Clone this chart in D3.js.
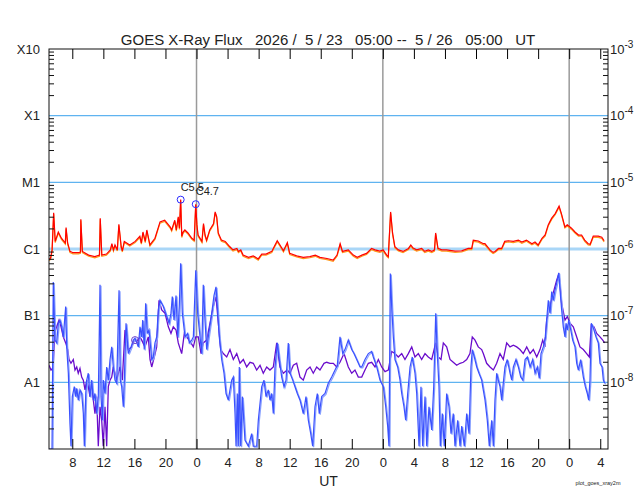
<!DOCTYPE html>
<html>
<head>
<meta charset="utf-8">
<script src="https://cdn.jsdelivr.net/npm/d3@7"></script>
<style>
  body { margin: 0; background: #fff; }
  svg text { font-family: "Liberation Sans", "DejaVu Sans", sans-serif; fill: #222; }
</style>
</head>
<body>
<svg width="640" height="500"></svg>
<script>
// hours after 2026-05-23 05:00 UT, flux in W/m^2
const longHours = [0,0.2,0.4,0.6,0.8,1.2,1.6,2.1,2.2,2.4,2.7,3.1,3.8,4.05,4.1,4.3,5.1,5.9,6.5,6.6,6.8,7.4,7.9,8.1,8.3,8.5,8.8,9.0,9.3,9.45,9.7,10.4,11.1,11.7,11.9,12.1,12.4,12.6,13.0,13.65,14.3,14.9,15.6,15.8,16.2,16.4,16.65,16.8,16.96,17.1,17.25,17.5,17.9,18.4,18.7,18.9,19.05,19.2,19.7,19.9,20.1,20.3,20.7,21.2,21.4,21.6,21.8,22.2,22.7,23.3,23.7,24.2,24.4,24.7,25.0,25.7,26.3,26.95,27.4,27.95,28.7,29.0,29.4,29.75,30.2,30.7,31.0,31.9,32.75,33.6,34.3,34.9,35.8,36.6,37.1,37.5,37.8,38.55,39.2,39.7,40.3,40.9,41.55,42.0,42.6,43.05,43.5,43.7,44.0,44.25,44.55,45.0,45.6,46.3,46.6,46.9,47.35,48.0,48.4,48.85,49.3,49.65,49.8,50.1,50.6,51.2,52.3,53.15,54.0,54.45,54.65,55.3,55.95,56.15,56.8,57.2,57.45,57.9,58.3,58.7,59.15,59.8,60.45,60.9,61.5,62.2,62.6,63.0,63.5,63.9,64.3,64.5,64.75,65.2,65.7,66.0,66.45,66.75,67.3,67.75,68.2,68.6,69.0,69.45,69.7,70.1,70.75,71.2,71.5];
const longFlux = [7.0e-7,7.3e-7,9.7e-7,3.5e-6,1.3e-6,1.8e-6,1.45e-6,1.23e-6,2.1e-6,1.23e-6,9.2e-7,8.8e-7,8.8e-7,9.0e-7,2.8e-6,9.2e-7,8.1e-7,7.7e-7,8.1e-7,2.9e-6,8.1e-7,8.4e-7,9.7e-7,1.2e-6,9.7e-7,1.15e-6,9.7e-7,2.35e-6,1.08e-6,9.4e-7,1.3e-6,1.15e-6,1.3e-6,1.55e-6,1.23e-6,1.8e-6,1.3e-6,1.93e-6,1.15e-6,1.45e-6,2.55e-6,2.7e-6,2.15e-6,1.93e-6,2.7e-6,1.93e-6,3.05e-6,2.05e-6,5.5e-6,1.55e-6,1.78e-6,1.93e-6,1.74e-6,1.45e-6,1.36e-6,4.7e-6,2.3e-6,1.62e-6,1.3e-6,2.4e-6,1.62e-6,1.36e-6,1.93e-6,2.4e-6,3.6e-6,3.05e-6,1.74e-6,1.36e-6,1.3e-6,1.08e-6,9.7e-7,1.02e-6,9.2e-7,9.7e-7,8.1e-7,7.5e-7,7.9e-7,7.1e-7,8.4e-7,8.4e-7,9.2e-7,1.08e-6,1.33e-6,1.15e-6,9.4e-7,1.25e-6,8.6e-7,7.9e-7,7.5e-7,7.7e-7,8.1e-7,7.5e-7,7.2e-7,6.8e-7,8.1e-7,1.2e-6,9.2e-7,9.7e-7,8.1e-7,7.5e-7,8.1e-7,8.6e-7,1.02e-6,9.7e-7,9.3e-7,9.7e-7,8.1e-7,7.7e-7,3.6e-6,1.74e-6,1.08e-6,9.7e-7,9.2e-7,1.02e-6,1.15e-6,1.03e-6,9.7e-7,1.02e-6,9.2e-7,9.7e-7,9.2e-7,9.7e-7,1.74e-6,1.02e-6,9.7e-7,9.7e-7,9.3e-7,9.4e-7,1.02e-6,1.02e-6,1.36e-6,1.32e-6,1.2e-6,1.2e-6,9.7e-7,8.9e-7,9.2e-7,1.02e-6,1.02e-6,1.3e-6,1.33e-6,1.3e-6,1.36e-6,1.27e-6,1.36e-6,1.2e-6,1.27e-6,1.15e-6,1.45e-6,1.62e-6,2.3e-6,2.55e-6,2.9e-6,3.4e-6,4.4e-6,3.4e-6,2.15e-6,2.3e-6,2.05e-6,1.8e-6,1.62e-6,1.62e-6,1.36e-6,1.2e-6,1.18e-6,1.56e-6,1.56e-6,1.5e-6,1.33e-6];

const shortHours = [0,0.39,0.55,0.77,0.99,1.2,1.42,1.64,1.84,2.15,2.28,2.49,2.7,2.83,3.0,3.26,3.44,3.57,3.77,3.99,4.21,4.42,4.55,4.73,4.86,5.06,5.28,5.5,5.71,5.92,6.14,6.35,6.57,6.7,6.87,6.99,7.21,7.43,7.64,7.86,8.08,8.28,8.5,8.72,9.02,9.18,9.36,9.57,9.7,9.92,10.21,10.56,10.86,11.08,11.5,11.72,11.94,12.07,12.27,12.45,12.66,12.88,13.23,13.43,13.65,13.87,14.08,14.3,14.72,15.16,15.46,15.71,15.88,16.1,16.36,16.58,16.78,16.96,17.17,17.52,17.86,18.07,18.38,18.59,18.9,19.15,19.36,19.67,19.87,20.09,20.31,20.52,20.96,21.25,21.51,21.68,21.93,22.24,22.54,22.8,23.09,23.31,23.53,23.74,23.96,24.09,24.25,24.38,24.51,24.69,24.9,25.24,25.67,26.11,26.31,26.75,26.96,27.4,27.69,27.95,28.25,28.46,28.68,28.89,29.11,29.41,29.66,29.97,30.27,30.53,30.82,31.04,31.39,31.68,31.98,32.33,32.75,33.1,33.4,33.71,33.96,34.26,34.56,34.81,35.12,35.55,35.97,36.41,36.84,37.13,37.48,37.83,38.12,38.55,38.99,39.28,39.63,40.06,40.28,40.7,41.13,41.56,41.77,42.21,42.63,43.06,43.37,43.62,43.79,43.96,44.14,44.35,44.56,44.91,45.21,45.43,45.72,45.94,46.2,46.5,46.79,47.14,47.36,47.66,47.91,48.13,48.43,48.65,48.94,49.29,49.55,49.81,50.01,50.23,50.4,50.66,50.91,51.22,51.52,51.78,52.07,52.29,52.64,52.94,53.16,53.49,53.8,54.1,54.35,54.52,54.78,55.09,55.38,55.73,55.86,56.16,56.45,56.71,57.02,57.23,57.44,57.66,57.87,58.09,58.31,58.51,58.73,59.03,59.38,59.6,59.81,60.15,60.45,60.76,61.02,61.32,61.61,61.96,62.3,62.6,62.9,63.15,63.37,63.67,63.92,64.1,64.31,64.53,64.75,64.95,65.17,65.39,65.65,65.82,66.03,66.24,66.46,66.59,66.76,66.94,67.2,67.45,67.75,67.97,68.18,68.48,68.82,69.08,69.33,69.51,69.68,69.85,70.11,70.45,70.75,70.97,71.23,71.4,71.57];
const shortFlux = [1e-9,1e-9,3.2e-7,4.3e-8,3.9e-8,7.7e-8,8.6e-8,6.8e-8,4.8e-8,1.37e-7,3.4e-8,1.37e-8,2.4e-9,1.1e-9,6.1e-9,8.6e-9,6.1e-9,8.1e-9,5.4e-9,7.7e-9,6.8e-9,3.4e-9,1.1e-9,6.8e-9,1.08e-8,1.37e-8,6.1e-9,1.08e-8,5.4e-9,6.8e-9,3.4e-9,6.1e-9,2.9e-7,6.1e-9,2.7e-9,1.08e-8,6.8e-9,1.7e-8,1.08e-8,2.2e-8,3.4e-8,1.7e-8,1.08e-8,9.7e-9,2.4e-7,1.08e-8,8.6e-9,4.3e-9,1.08e-8,7.7e-8,2.7e-8,3.4e-8,4.3e-8,4.6e-8,3.4e-8,6.8e-8,4.8e-8,8.6e-8,3.1e-8,1.53e-7,5.4e-8,6.1e-8,2.2e-8,2.4e-8,3.9e-8,4.8e-8,1.22e-7,1.7e-7,1.37e-7,9.7e-8,7.7e-8,1.09e-7,1.93e-7,8.6e-8,2.0e-7,4.8e-8,1.37e-7,6.1e-7,1.09e-7,4.8e-8,5.4e-8,3.9e-8,4.3e-8,4.8e-8,4.8e-7,1.09e-7,6.1e-8,2.7e-8,2.9e-7,8.6e-8,3.1e-8,4.8e-8,1.09e-7,2.0e-7,2.7e-7,1.37e-7,4.8e-8,2.2e-8,1.37e-8,6.8e-9,5.4e-9,7.7e-9,1.08e-8,1.2e-8,3.4e-9,1.1e-9,6.8e-9,1.1e-9,1.7e-8,1.1e-9,6.1e-9,1.36e-9,1.1e-9,1.7e-9,1.1e-9,1.1e-9,2.7e-9,8.6e-9,1.08e-8,6.1e-9,7.7e-9,5.4e-9,6.8e-9,3.4e-9,1.7e-8,3.9e-8,2.2e-8,1.2e-8,8.6e-9,1.08e-8,3.9e-8,1.37e-8,1.08e-8,8.6e-9,6.8e-9,5.4e-9,3.4e-9,6.1e-9,2.7e-9,1.7e-9,1.1e-9,4.3e-9,6.8e-9,3.4e-9,6.1e-9,6.8e-9,9.7e-9,1.2e-8,1.53e-8,1.8e-8,4.8e-8,2.7e-8,3.1e-8,4.3e-8,3.1e-8,2.7e-8,2.2e-8,1.7e-8,1.7e-8,2.2e-8,2.7e-8,2.9e-8,2.4e-8,1.7e-8,1.08e-8,8.6e-9,4.3e-9,2.2e-9,1.1e-9,4.3e-7,1.37e-7,4.8e-8,2.2e-8,1.7e-8,1.08e-8,6.8e-9,4.3e-9,2.7e-9,6.8e-9,1.7e-8,2.4e-8,1.37e-8,6.8e-9,1.1e-9,8.6e-9,1.1e-9,6.1e-9,1.1e-9,4.3e-9,1.93e-9,8.6e-9,1.09e-7,2.7e-8,8.6e-9,1.1e-9,3.4e-9,1.1e-9,6.8e-9,4.3e-9,1.7e-9,3.4e-9,1.1e-9,2.7e-9,1.1e-9,2.2e-9,1.1e-9,3.4e-9,1.7e-9,1.7e-8,3.1e-8,2.4e-8,1.7e-8,1.37e-8,1.08e-8,8.6e-9,5.4e-9,2.7e-9,1.1e-9,2.7e-9,1.1e-9,5.4e-9,1.37e-8,1.08e-8,8.6e-9,5.4e-9,9.7e-9,1.7e-8,2.2e-8,1.37e-8,1.08e-8,1.7e-8,2.2e-8,1.7e-8,1.2e-8,1.08e-8,2.2e-8,2.4e-8,1.7e-8,2.2e-8,1.37e-8,1.7e-8,1.15e-8,2.7e-8,3.4e-8,4.8e-8,8.6e-8,1.7e-7,1.09e-7,2.3e-7,1.7e-7,2.4e-7,3.1e-7,4.4e-7,2.4e-7,1.22e-7,6.8e-8,4.8e-8,7.7e-8,6.1e-8,8.6e-8,6.1e-8,4.3e-8,3.4e-8,1.93e-8,1.53e-8,2.2e-8,1.2e-8,8.6e-9,6.8e-9,5.4e-9,1.08e-8,7.7e-8,6.5e-8,4.8e-8,3.9e-8,1.93e-8,1.7e-8,1.08e-8,9.7e-9];

const short2Hours = [0,0.26,0.52,0.77,0.99,1.29,1.55,1.84,2.15,2.41,2.58,2.83,3.13,3.35,3.57,3.77,3.99,4.21,4.42,4.64,4.86,5.06,5.28,5.5,5.71,5.92,6.14,6.35,6.57,6.79,6.99,7.21,7.43,7.64,7.86,8.08,8.28,8.5,8.72,9.14,9.44,9.79,10.21,10.65,10.99,11.3,11.72,11.94,12.36,12.79,13.01,13.23,13.56,13.87,14.17,14.52,14.94,15.37,15.71,16.01,16.36,16.65,17.09,17.43,17.74,18.03,18.29,18.59,18.9,19.23,19.58,19.87,20.31,20.74,21.16,21.51,21.81,22.12,22.45,22.89,23.31,23.74,24.18,24.6,25.03,25.46,25.89,26.31,26.75,27.18,27.6,28.04,28.46,28.89,29.33,29.75,30.18,30.69,31.04,31.47,31.9,32.33,32.75,33.19,33.62,34.04,34.48,34.9,35.42,35.77,36.19,36.62,37.06,37.48,38.0,38.55,38.99,39.41,39.84,40.28,40.7,41.13,41.56,41.99,42.42,42.85,43.28,43.7,44.14,44.56,44.99,45.43,45.85,46.28,46.72,47.14,47.57,48.0,48.43,48.85,49.29,49.81,50.14,50.49,50.79,51.22,51.65,52.07,52.51,52.94,53.36,53.8,54.22,54.52,54.87,55.29,55.73,55.94,56.37,56.8,57.23,57.66,58.09,58.51,58.95,59.38,59.81,60.24,60.66,61.09,61.53,61.96,62.38,62.82,63.24,63.59,63.88,64.1,64.53,64.95,65.39,65.69,66.03,66.46,66.76,67.1,67.53,67.97,68.39,68.82,69.25,69.59,69.85,70.2,70.54,70.97,71.32,71.57];
const short2Flux = [1.8e-8,1.53e-8,1.64e-8,5.8e-8,6.8e-8,8.6e-8,6.8e-8,4.8e-8,3.9e-8,3.1e-8,2.2e-8,1.93e-8,2.2e-8,1.53e-8,1.7e-8,1.37e-8,1.62e-8,1.2e-8,1.08e-8,7.7e-9,1.08e-8,8.6e-9,6.1e-9,9.7e-9,5.4e-9,3.4e-9,6.1e-9,1.1e-9,4.3e-9,2.7e-9,1.1e-9,4.3e-9,1.1e-9,8.6e-9,1.08e-8,1.2e-8,1.7e-8,1.37e-8,1.08e-8,1.7e-8,1.08e-8,6.1e-8,3.1e-8,3.4e-8,4.3e-8,4.1e-8,4.8e-8,4.3e-8,3.4e-8,4.8e-8,2.2e-8,1.7e-8,2.4e-8,3.4e-8,1.7e-7,1.22e-7,1.09e-7,6.8e-8,5.4e-8,6.8e-8,6.1e-8,3.9e-8,2.7e-8,5.4e-8,4.8e-8,4.3e-8,3.9e-8,3.4e-8,4.8e-8,4.8e-8,2.7e-8,3.9e-8,4.3e-8,7.7e-8,1.37e-7,1.93e-7,7.7e-8,3.1e-8,2.7e-8,2.4e-8,3.1e-8,2.2e-8,2.7e-8,1.93e-8,2.2e-8,1.7e-8,2.0e-8,1.93e-8,1.53e-8,1.8e-8,1.37e-8,1.7e-8,1.53e-8,1.7e-8,3.9e-8,1.7e-8,1.37e-8,1.53e-8,1.37e-8,1.8e-8,1.93e-8,1.2e-8,1.08e-8,1.53e-8,1.7e-8,1.37e-8,1.7e-8,1.53e-8,1.93e-8,2.0e-8,1.93e-8,1.93e-8,1.7e-8,2.0e-8,2.7e-8,1.7e-8,1.37e-8,1.53e-8,1.2e-8,1.2e-8,1.53e-8,1.93e-8,2.0e-8,1.7e-8,2.2e-8,1.7e-8,1.45e-8,1.53e-8,2.9e-8,2.7e-8,2.4e-8,2.7e-8,2.2e-8,2.7e-8,3.4e-8,2.4e-8,2.7e-8,2.2e-8,2.7e-8,2.4e-8,2.2e-8,3.9e-8,2.4e-8,2.2e-8,3.9e-8,3.4e-8,2.2e-8,2.0e-8,1.8e-8,1.93e-8,2.0e-8,2.2e-8,2.7e-8,4.8e-8,4.3e-8,3.4e-8,3.1e-8,2.7e-8,1.93e-8,1.7e-8,1.53e-8,1.93e-8,2.7e-8,2.2e-8,3.9e-8,3.4e-8,3.6e-8,3.4e-8,3.1e-8,2.7e-8,3.4e-8,2.7e-8,3.1e-8,2.4e-8,3.1e-8,4.3e-8,3.4e-8,8.6e-8,1.37e-7,2.2e-7,3.4e-7,4.3e-7,1.53e-7,8.6e-8,9.7e-8,7.7e-8,6.8e-8,4.8e-8,3.4e-8,3.1e-8,2.7e-8,2.4e-8,7.2e-8,6.8e-8,5.4e-8,4.8e-8,4.3e-8,3.9e-8];

const flareHours = [16.96, 18.9, 11.08];
const flareFlux = [5.5e-6, 4.7e-6, 4.3e-8];
const flareLabels = ["C5.5", "C4.7", ""];

const classLabels = ["X10", "X1", "M1", "C1", "B1", "A1"];
const classFlux = [1e-3, 1e-4, 1e-5, 1e-6, 1e-7, 1e-8];
const expLabels = ["-3", "-4", "-5", "-6", "-7", "-8"];

const startTime = Date.UTC(2026, 4, 23, 5);
const endTime = Date.UTC(2026, 4, 26, 5);
const dayLines = [Date.UTC(2026, 4, 24), Date.UTC(2026, 4, 25), Date.UTC(2026, 4, 26)];

const svg = d3.select("svg");
const margin = { top: 49, right: 32, bottom: 51, left: 49 };
const width = +svg.attr("width");
const height = +svg.attr("height");
const innerWidth = width - margin.left - margin.right;
const innerHeight = height - margin.top - margin.bottom;

const toSeries = (hours, flux) =>
  hours.map((h, i) => ({ t: new Date(startTime + h * 3600e3), v: flux[i] }));

const xScale = d3.scaleUtc().domain([new Date(startTime), new Date(endTime)]).range([0, innerWidth]);
const yScale = d3.scaleLog().domain([1e-9, 1e-3]).range([innerHeight, 0]);

const g = svg.append("g").attr("transform", `translate(${margin.left}, ${margin.top})`);

g.append("clipPath").attr("id", "plotclip")
  .append("rect").attr("width", innerWidth).attr("height", innerHeight);

// horizontal class lines
g.selectAll(".hgrid")
  .data(classFlux.slice(1))
  .enter()
  .append("line")
  .attr("x1", 0).attr("x2", innerWidth)
  .attr("y1", (d) => yScale(d)).attr("y2", (d) => yScale(d))
  .attr("stroke", (d) => (d === 1e-6 ? "#a9d6f7" : "#5fb3f0"))
  .attr("stroke-width", (d) => (d === 1e-6 ? 3 : 1.2));

// day boundaries
g.selectAll(".vday")
  .data(dayLines)
  .enter()
  .append("line")
  .attr("x1", (d) => xScale(new Date(d))).attr("x2", (d) => xScale(new Date(d)))
  .attr("y1", 0).attr("y2", innerHeight)
  .attr("stroke", "#9a9a9a")
  .attr("stroke-width", 1.5);

const line = d3.line()
  .x((d) => xScale(d.t))
  .y((d) => yScale(Math.max(d.v, 1e-9)));

const plot = g.append("g").attr("clip-path", "url(#plotclip)");

const longData = toSeries(longHours, longFlux);
const shortData = toSeries(shortHours, shortFlux);
const short2Data = toSeries(short2Hours, short2Flux);

plot.append("path").datum(longData)
  .attr("d", line).attr("fill", "none")
  .attr("stroke", "#ff9a1a").attr("stroke-width", 1.2)
  .attr("transform", "translate(0, 1.2)");
plot.append("path").datum(short2Data)
  .attr("d", line).attr("fill", "none")
  .attr("stroke", "#6a0ccc").attr("stroke-width", 1.3);
plot.append("path").datum(shortData)
  .attr("d", line).attr("fill", "none")
  .attr("stroke", "#8aa2ff").attr("stroke-width", 1.2)
  .attr("transform", "translate(1, 1)");
plot.append("path").datum(shortData)
  .attr("d", line).attr("fill", "none")
  .attr("stroke", "#3a50ff").attr("stroke-width", 1.2);
plot.append("path").datum(longData)
  .attr("d", line).attr("fill", "none")
  .attr("stroke", "#ff0000").attr("stroke-width", 1.2);

// flare markers
const flares = flareHours.map((h, i) => ({
  t: new Date(startTime + h * 3600e3), v: flareFlux[i], label: flareLabels[i]
}));
g.selectAll(".flare")
  .data(flares)
  .enter()
  .append("circle")
  .attr("cx", (d) => xScale(d.t))
  .attr("cy", (d) => yScale(d.v))
  .attr("r", 3.5)
  .attr("fill", "none")
  .attr("stroke", (d) => (d.label ? "#2b2bff" : "#6a40d0"))
  .attr("stroke-width", 1);
g.selectAll(".flarelabel")
  .data(flares.filter((d) => d.label))
  .enter()
  .append("text")
  .attr("x", (d) => xScale(d.t))
  .attr("y", (d) => yScale(d.v) - 9)
  .attr("font-size", 11)
  .text((d) => d.label);

// frame
g.append("rect")
  .attr("width", innerWidth).attr("height", innerHeight)
  .attr("fill", "none").attr("stroke", "#111").attr("stroke-width", 1);

// time axes
const xAxis = d3.axisBottom(xScale)
  .ticks(d3.utcHour.every(4))
  .tickFormat(d3.utcFormat("%-H"))
  .tickSizeInner(-10).tickSizeOuter(0).tickPadding(9);
const xAxisG = g.append("g")
  .attr("transform", `translate(0, ${innerHeight})`)
  .call(xAxis);
xAxisG.select(".domain").remove();
xAxisG.selectAll("text").attr("font-size", 13).attr("fill", "#222");

const xAxisTop = d3.axisTop(xScale)
  .ticks(d3.utcHour.every(4))
  .tickFormat("")
  .tickSizeInner(-10).tickSizeOuter(0);
const xTopG = g.append("g").call(xAxisTop);
xTopG.select(".domain").remove();

g.append("text")
  .attr("x", innerWidth / 2)
  .attr("y", innerHeight + 37)
  .attr("text-anchor", "middle")
  .attr("font-size", 14)
  .text("UT");

// flux ticks on both sides
const yTicks = yScale.ticks();
g.selectAll(".ytl")
  .data(yTicks)
  .enter()
  .append("line")
  .attr("x1", 0)
  .attr("x2", (d) => (classFlux.includes(d) || d === 1e-9 ? 0 : 5))
  .attr("y1", (d) => yScale(d)).attr("y2", (d) => yScale(d))
  .attr("stroke", "#111");
g.selectAll(".ytr")
  .data(yTicks)
  .enter()
  .append("line")
  .attr("x1", innerWidth)
  .attr("x2", (d) => innerWidth - (classFlux.includes(d) || d === 1e-9 ? 0 : 5))
  .attr("y1", (d) => yScale(d)).attr("y2", (d) => yScale(d))
  .attr("stroke", "#111");

g.selectAll(".classlabel")
  .data(classFlux)
  .enter()
  .append("text")
  .attr("x", -9)
  .attr("y", (d) => yScale(d))
  .attr("dy", "0.35em")
  .attr("text-anchor", "end")
  .attr("font-size", 13)
  .text((d, i) => classLabels[i]);

const expText = g.selectAll(".explabel")
  .data(classFlux)
  .enter()
  .append("text")
  .attr("x", innerWidth + 2)
  .attr("y", (d) => yScale(d))
  .attr("dy", "0.35em")
  .attr("font-size", 13);
expText.append("tspan").text("10");
expText.append("tspan")
  .attr("font-size", 10)
  .attr("dy", "-0.6em")
  .text((d, i) => expLabels[i]);

// title and footer
svg.append("text")
  .attr("x", 328)
  .attr("y", 45)
  .attr("text-anchor", "middle")
  .attr("font-size", 15)
  .style("white-space", "pre")
  .text("GOES X-Ray Flux   2026 /  5 / 23   05:00 --  5 / 26   05:00   UT");

svg.append("text")
  .attr("x", 598)
  .attr("y", 485)
  .attr("text-anchor", "middle")
  .attr("font-size", 5.5)
  .attr("fill", "#444")
  .text("plot_goes_xray2m");
</script>
</body>
</html>
